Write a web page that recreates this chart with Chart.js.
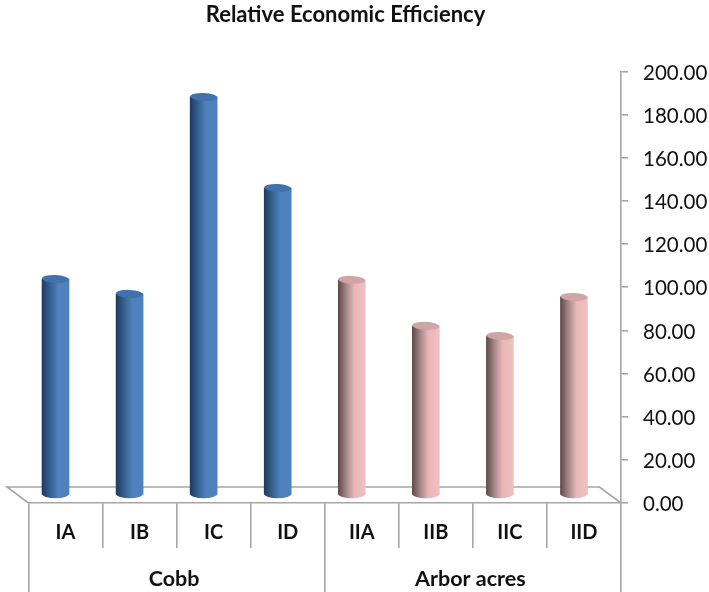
<!DOCTYPE html>
<html>
<head>
<meta charset="utf-8">
<title>Relative Economic Efficiency</title>
<script src="https://cdn.jsdelivr.net/npm/chart.js@4"></script>
<style>
    html, body { margin: 0; padding: 0; background: #fff; }
    canvas { display: block; }
</style>
</head>
<body>
<canvas id="efficiency-chart" width="709" height="592"></canvas>
<script>
const categories = ['IA', 'IB', 'IC', 'ID', 'IIA', 'IIB', 'IIC', 'IID'];
const groups = ['Cobb', 'Arbor acres'];
const cobbValues = [100.1, 93.2, 184.5, 142.3];
const arborValues = [99.7, 78.4, 73.7, 91.8];
const values = cobbValues.concat(arborValues);

const FONT = 'Lato, "Open Sans", sans-serif';
const AXIS_COLOR = '#a6a6a6';
// fake 3D: floor depth, bars stand in the middle of it
const DEPTH_X = 21.5, DEPTH_Y = 16;
const SHIFT_X = -10, SHIFT_Y = -8;
const CAP_RY = 4;

const isCobb = (i) => i < cobbValues.length;

function cylinderFill(chart, i) {
    const x = chart.scales.x ? chart.scales.x.getPixelForValue(i) : NaN;
    if (!Number.isFinite(x)) return isCobb(i) ? '#4f81bd' : '#f0c0c1'; // scales not ready yet
    const w = 13.5;
    const g = chart.ctx.createLinearGradient(x - w, 0, x + w, 0);
    if (isCobb(i)) {
        g.addColorStop(0, '#1f3b60');
        g.addColorStop(0.3, '#35608f');
        g.addColorStop(0.6, '#4f81bd');
        g.addColorStop(1, '#4f81bd');
    } else {
        g.addColorStop(0, '#5f4a4a');
        g.addColorStop(0.3, '#a88789');
        g.addColorStop(0.6, '#e9b7b8');
        g.addColorStop(1, '#f0c0c1');
    }
    return g;
}

const cylinderPlugin = {
    id: 'cylinder',
    afterLayout(chart) {
        // title is centred left of the plot middle
        chart.titleBlock.left = 0;
        chart.titleBlock.right = 691;
    },
    beforeDatasetsDraw(chart) {
        const { ctx, chartArea: a } = chart;
        ctx.save();
        ctx.strokeStyle = AXIS_COLOR;
        ctx.lineWidth = 1.6;
        ctx.beginPath();
        ctx.moveTo(a.left, a.bottom);
        ctx.lineTo(a.left - DEPTH_X, a.bottom - DEPTH_Y);
        ctx.lineTo(a.right - DEPTH_X, a.bottom - DEPTH_Y);
        ctx.lineTo(a.right, a.bottom);
        ctx.stroke();
        ctx.restore();
    },
    beforeDatasetDraw(chart) {
        chart.ctx.save();
        chart.ctx.translate(SHIFT_X, SHIFT_Y);
    },
    afterDatasetDraw(chart) {
        const ctx = chart.ctx;
        chart.getDatasetMeta(0).data.forEach((bar, i) => {
            // rounded foot
            ctx.fillStyle = cylinderFill(chart, i);
            ctx.beginPath();
            ctx.ellipse(bar.x, bar.base - 0.5, bar.width / 2, CAP_RY + 0.5, 0, 0, Math.PI);
            ctx.fill();
            // top cap
            ctx.fillStyle = isCobb(i) ? '#4272ac' : '#cfa5a6';
            ctx.beginPath();
            ctx.ellipse(bar.x, bar.y, bar.width / 2, CAP_RY, 0.05, 0, Math.PI * 2);
            ctx.fill();
        });
        ctx.restore();
    }
};

new Chart(document.getElementById('efficiency-chart'), {
    type: 'bar',
    data: {
        labels: categories,
        datasets: [{
            data: values,
            barThickness: 27,
            borderWidth: 0,
            backgroundColor: (c) => cylinderFill(c.chart, c.dataIndex)
        }]
    },
    options: {
        responsive: false,
        animation: false,
        layout: { padding: { left: 28.5 } },
        plugins: {
            legend: { display: false },
            tooltip: { enabled: false },
            title: {
                display: true,
                text: 'Relative Economic Efficiency',
                color: '#111',
                font: { family: FONT, size: 22, weight: 'bold', lineHeight: 1.2 },
                padding: { top: 2, bottom: 43.1 }
            }
        },
        scales: {
            x: {
                offset: true,
                grid: { offset: true, drawOnChartArea: false, color: AXIS_COLOR, lineWidth: 1.6, tickLength: 45 },
                border: { color: AXIS_COLOR, width: 1.6 },
                ticks: { color: '#111', padding: -27, maxRotation: 0, font: { family: FONT, size: 20, weight: 'bold' } },
                afterFit: (s) => { s.height = 45; }
            },
            x2: {
                type: 'category',
                axis: 'x',
                position: 'bottom',
                labels: groups,
                offset: true,
                weight: 1,
                grid: { offset: true, drawOnChartArea: false, color: AXIS_COLOR, lineWidth: 1.6, tickLength: 44 },
                border: { display: false },
                ticks: { color: '#111', padding: -26, labelOffset: -2.5, maxRotation: 0, font: { family: FONT, size: 21.5, weight: 'bold' } },
                afterFit: (s) => { s.height = 44; }
            },
            y: {
                position: 'right',
                min: 0,
                max: 200,
                grid: { drawOnChartArea: false, color: AXIS_COLOR, lineWidth: 1.6, tickLength: 7 },
                border: { color: AXIS_COLOR, width: 1.6 },
                ticks: {
                    stepSize: 20,
                    color: '#111',
                    padding: 15,
                    labelOffset: 1.5,
                    font: { family: FONT, size: 20.5 },
                    callback: (v) => v.toFixed(2)
                },
                afterFit: (s) => { s.width = 88; }
            }
        }
    },
    plugins: [cylinderPlugin]
});
</script>
</body>
</html>
